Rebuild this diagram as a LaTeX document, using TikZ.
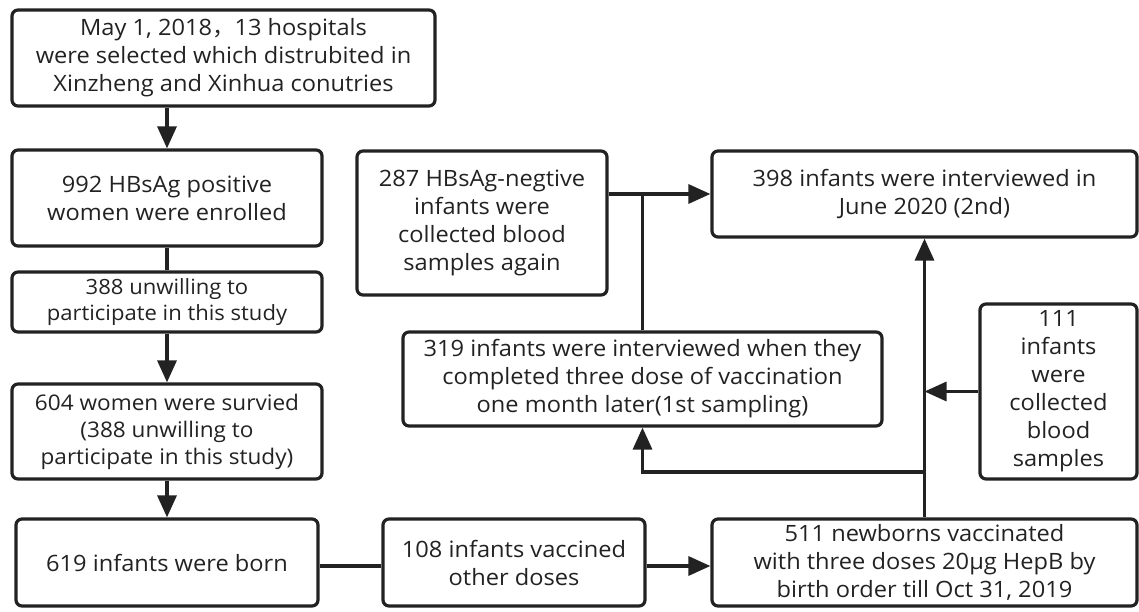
\documentclass[tikz,border=0pt]{standalone}
\usepackage{fontspec}
\setmainfont{Open Sans}[FakeStretch=1.05]
\newfontfamily\cjk{Noto Sans CJK SC}
\usetikzlibrary{arrows.meta}
\definecolor{ink}{HTML}{222222}
\tikzset{
  box/.style={draw=ink, line width=3.2pt, rounded corners=6pt, align=center, text=ink,
    font=\fontsize{22.5}{28}\selectfont, inner sep=0pt, anchor=center},
  conn/.style={draw=ink, line width=3.2pt},
  arr/.style={conn, -{Triangle[length=22pt,width=19pt]}}
}
\begin{document}
\begin{tikzpicture}[x=1pt,y=-1pt]
\useasboundingbox (0,0) rectangle (1139,612);
\node[box, minimum width=423pt, minimum height=96pt] (A) at (223.5,58)
  {May 1, 2018{\cjk ，}13 hospitals\\were selected which distrubited in\\Xinzheng and Xinhua conutries};
\node[box, minimum width=310pt, minimum height=96pt] (B) at (167,198)
  {992 HBsAg positive\\women were enrolled};
\node[box, minimum width=310pt, minimum height=60pt, font=\fontsize{21}{26}\selectfont] (C) at (167,302)
  {388 unwilling to\\participate in this study};
\node[box, minimum width=310pt, minimum height=95pt, font=\fontsize{21.5}{27}\selectfont] (D) at (167,431.5)
  {604 women were survied\\(388 unwilling to\\participate in this study)};
\node[box, minimum width=302pt, minimum height=87pt] (E) at (167,562.5)
  {619 infants were born};
\node[box, minimum width=262pt, minimum height=87pt] (F) at (514,562.5)
  {108 infants vaccined\\other doses};
\node[box, minimum width=425pt, minimum height=87pt] (G) at (924.5,562.5)
  {511 newborns vaccinated\\with three doses 20µg HepB by\\birth order till Oct 31, 2019};
\node[box, minimum width=250pt, minimum height=144pt] (H) at (482,223)
  {287 HBsAg-negtive\\infants were\\collected blood\\samples again};
\node[box, minimum width=425pt, minimum height=86pt] (I) at (924.5,194)
  {398 infants were interviewed in\\June 2020 (2nd)};
\node[box, minimum width=479pt, minimum height=94pt] (J) at (642.5,379)
  {319 infants were interviewed when they\\completed three dose of vaccination\\one month later(1st sampling)};
\node[box, minimum width=157pt, minimum height=175pt] (K) at (1058.5,391.5)
  {111\\infants\\were\\collected\\blood\\samples};
\draw[arr] (A.south -| B.north) -- (B.north);
\draw[conn] (B.south) -- (C.north);
\draw[arr] (C.south) -- (D.north);
\draw[arr] (D.south) -- (E.north);
\draw[conn] (E.east |- 0,566) -- (F.west |- 0,566);
\draw[arr] (F.east |- 0,566) -- (G.west |- 0,566);
\draw[arr] (H.east |- I.west) -- (I.west);
\draw[conn] (J.north) -- (J.north |- I.west);
\draw[arr] (G.north) -- (I.south);
\draw[arr] (K.west) -- (K.west -| G.north);
\coordinate (r) at (924.5,472);
\draw[arr] (r) -- (r -| J.south) -- (J.south);
\end{tikzpicture}
\end{document}
